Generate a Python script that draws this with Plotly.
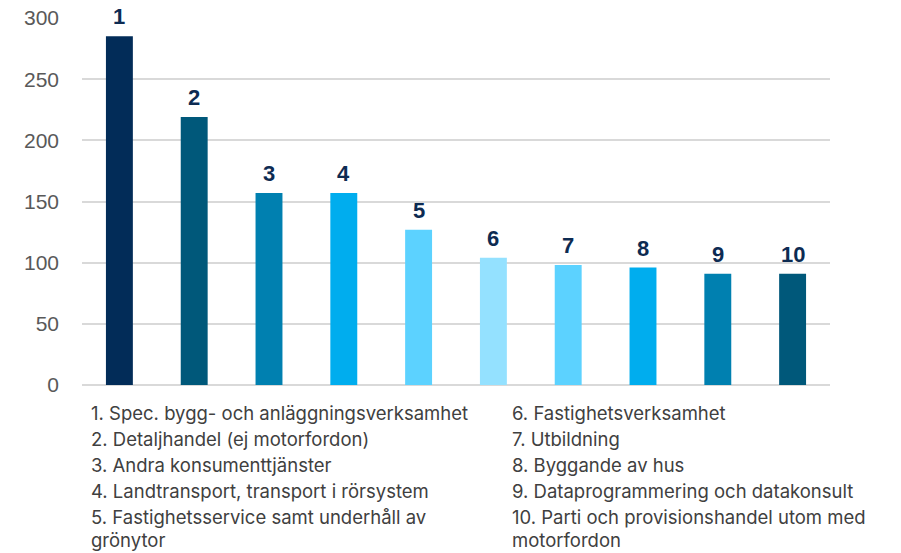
import textwrap
import plotly.graph_objects as go

# Ranking of industries (1-10) and their counts
ranks = ["1", "2", "3", "4", "5", "6", "7", "8", "9", "10"]
values = [285, 219, 157, 157, 127, 104, 98, 96, 91, 91]
industries = [
    "Spec. bygg- och anläggningsverksamhet",
    "Detaljhandel (ej motorfordon)",
    "Andra konsumenttjänster",
    "Landtransport, transport i rörsystem",
    "Fastighetsservice samt underhåll av grönytor",
    "Fastighetsverksamhet",
    "Utbildning",
    "Byggande av hus",
    "Dataprogrammering och datakonsult",
    "Parti och provisionshandel utom med motorfordon",
]
bar_colors = [
    "#022C58", "#00587A", "#0080B0", "#00ADEE", "#5CD2FF",
    "#94E1FF", "#5CD2FF", "#00ADEE", "#0080B0", "#00587A",
]
y_ticks = [0, 50, 100, 150, 200, 250, 300]

W, H = 901, 553
M_L, M_R, M_T, M_B = 82, 71, 18, 168
plot_h = H - M_T - M_B

fig = go.Figure(
    go.Bar(
        x=ranks,
        y=values,
        marker=dict(color=bar_colors, line=dict(width=0)),
        width=0.36,
        hoverinfo="x+y",
    )
)

# Rank numbers above each bar (category index on the x axis)
for i, (r, v) in enumerate(zip(ranks, values)):
    fig.add_annotation(
        x=i, y=v, xref="x", yref="y",
        text=f"<b>{r}</b>", showarrow=False,
        yanchor="bottom", yshift=5,
        font=dict(family="Liberation Sans, Arial, sans-serif", size=22, color="#0D2B52"),
    )

# Two-column key below the chart: items 26 px apart, wrapped lines a bit tighter
ITEM_STEP, WRAP_STEP, FIRST_Y = 26.0, 22.5, 413

def add_key_column(items, start_idx, x_px):
    y_px = FIRST_Y
    for i, name in enumerate(items):
        for j, part in enumerate(textwrap.wrap(f"{start_idx + i}. {name}", width=40)):
            if j > 0:
                y_px += WRAP_STEP
            fig.add_annotation(
                x=(x_px - M_L) / (W - M_L - M_R), y=(H - M_B - y_px) / plot_h,
                xref="paper", yref="paper", xanchor="left", yanchor="middle",
                text=part, showarrow=False,
                font=dict(family="Inter, Noto Sans, sans-serif", size=18.5, color="#404040"),
            )
        y_px += ITEM_STEP

add_key_column(industries[:5], 1, 89)
add_key_column(industries[5:], 6, 510)

fig.update_layout(
    width=W, height=H,
    margin=dict(l=M_L, r=M_R, t=M_T, b=M_B),
    plot_bgcolor="white", paper_bgcolor="white",
    showlegend=False,
    xaxis=dict(type="category", range=[-0.5, 9.5], showticklabels=False, automargin=False,
               showgrid=False, zeroline=False, showline=False, ticks=""),
    yaxis=dict(
        range=[0, 300], tickvals=y_ticks, automargin=False,
        showgrid=True, gridcolor="#D9D9D9", gridwidth=1.5,
        zeroline=True, zerolinecolor="#D9D9D9", zerolinewidth=1.5,
        showline=False, ticks="", ticklabelstandoff=22,
        tickfont=dict(family="Liberation Sans, Arial, sans-serif", size=21, color="#595959"),
    ),
)

fig.write_html("out.html")
